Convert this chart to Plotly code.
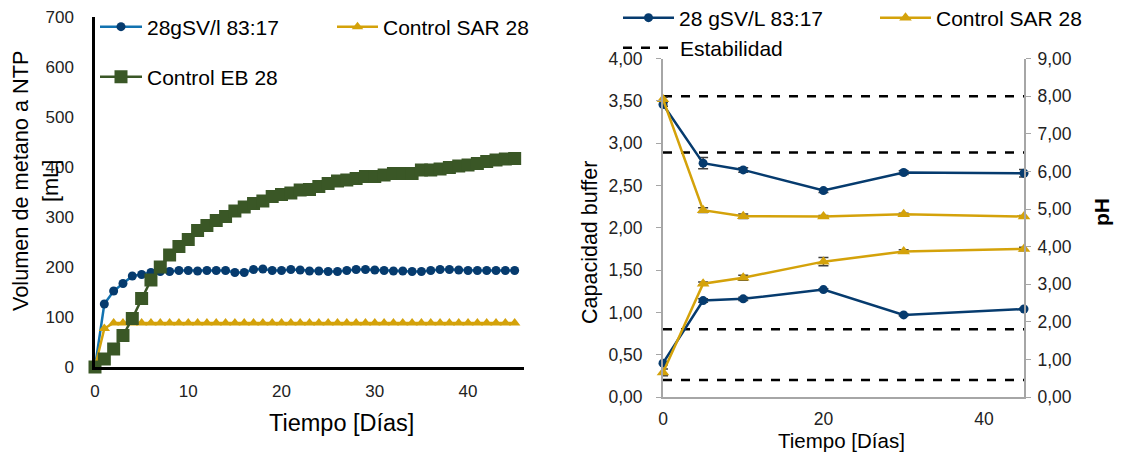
import plotly.graph_objects as go

# ---------------- Left chart data ----------------
days = list(range(0, 46))
blue_vol = [0, 126, 152, 167, 182, 185, 189, 191, 191, 193, 193, 192, 193, 193, 193, 189, 189, 195, 196, 193,
            193, 195, 194, 192, 192, 191, 191, 193, 195, 195, 194, 193, 192, 192, 191, 191, 193, 195, 195, 194,
            193, 193, 193, 193, 193, 193]
sar_vol = [0, 77] + [88] * 44
eb_vol = [0, 16, 36, 63, 97, 137, 174, 200, 224, 241, 255, 273, 283, 293, 301, 312, 320, 327, 332, 341,
          345, 348, 354, 355, 361, 367, 372, 374, 377, 381, 381, 384, 387, 387, 387, 394, 394, 396, 399, 402,
          404, 407, 411, 414, 416, 417]

# ---------------- Right chart data ----------------
t_days = [0, 5, 10, 20, 30, 45]
ph_blue = [7.78, 6.22, 6.04, 5.49, 5.97, 5.95]
ph_blue_err = [0.05, 0.15, 0.06, 0.05, 0.05, 0.10]
ph_sar = [7.92, 4.97, 4.81, 4.80, 4.86, 4.80]
ph_sar_err = [0.05, 0.06, 0.06, 0.03, 0.03, 0.03]
buf_blue = [0.40, 1.14, 1.16, 1.27, 0.97, 1.04]
buf_blue_err = [0.02, 0.02, 0.02, 0.01, 0.01, 0.01]
buf_sar = [0.29, 1.34, 1.41, 1.60, 1.72, 1.75]
buf_sar_err = [0.04, 0.02, 0.03, 0.05, 0.02, 0.02]
ph_limits = [8.0, 6.5]
buf_limits = [0.8, 0.2]
limit_x = [0, 45]

left_ticks = [0, 100, 200, 300, 400, 500, 600, 700]
right_left_ticks = [0, 0.5, 1, 1.5, 2, 2.5, 3, 3.5, 4]
right_left_text = ["0,00", "0,50", "1,00", "1,50", "2,00", "2,50", "3,00", "3,50", "4,00"]
ph_ticks = list(range(0, 10))
ph_text = [f"{v},00" for v in ph_ticks]

NAVY = "#063B6E"
LBLUE = "#1272B0"
GOLD = "#D4A20A"
GREEN = "#3A5726"
W, H = 1122, 456
FONT = "Liberation Sans, Arial, sans-serif"

fig = go.Figure()

# left chart traces
fig.add_trace(go.Scatter(x=days, y=blue_vol, mode="lines+markers", name="28gSV/l 83:17",
                         line=dict(color=LBLUE, width=2.5), marker=dict(color=NAVY, size=9, symbol="circle"),
                         xaxis="x", yaxis="y", legend="legend", cliponaxis=False))
fig.add_trace(go.Scatter(x=days, y=sar_vol, mode="lines+markers", name="Control SAR 28",
                         line=dict(color=GOLD, width=2.5), marker=dict(color=GOLD, size=10, symbol="triangle-up"),
                         xaxis="x", yaxis="y", legend="legend2", cliponaxis=False))
fig.add_trace(go.Scatter(x=days, y=eb_vol, mode="lines+markers", name="Control EB 28",
                         line=dict(color=GREEN, width=2.5), marker=dict(color=GREEN, size=13, symbol="square"),
                         xaxis="x", yaxis="y", legend="legend3", cliponaxis=False))

# right chart traces
ERR = "#404040"
def err(arr):
    return dict(type="data", array=arr, visible=True, color=ERR, thickness=1.5, width=5)

for i, yv in enumerate(ph_limits):
    fig.add_trace(go.Scatter(x=limit_x, y=[yv, yv], mode="lines", name="Estabilidad",
                             line=dict(color="black", width=2.5, dash="dash"),
                             xaxis="x2", yaxis="y3", legend="legend6", showlegend=(i == 0)))
for yv in buf_limits:
    fig.add_trace(go.Scatter(x=limit_x, y=[yv, yv], mode="lines", name="Estabilidad",
                             line=dict(color="black", width=2.5, dash="dash"),
                             xaxis="x2", yaxis="y2", showlegend=False, legend="legend6"))

fig.add_trace(go.Scatter(x=t_days, y=buf_blue, mode="lines+markers", name="28 gSV/L 83:17",
                         line=dict(color=NAVY, width=2.5), marker=dict(color=NAVY, size=9),
                         error_y=err(buf_blue_err), xaxis="x2", yaxis="y2", legend="legend4", cliponaxis=False))
fig.add_trace(go.Scatter(x=t_days, y=buf_sar, mode="lines+markers", name="Control SAR 28",
                         line=dict(color=GOLD, width=2.5), marker=dict(color=GOLD, size=11, symbol="triangle-up"),
                         error_y=err(buf_sar_err), xaxis="x2", yaxis="y2", legend="legend5", cliponaxis=False))
fig.add_trace(go.Scatter(x=t_days, y=ph_blue, mode="lines+markers", name="28 gSV/L 83:17",
                         line=dict(color=NAVY, width=2.5), marker=dict(color=NAVY, size=9),
                         error_y=err(ph_blue_err), xaxis="x2", yaxis="y3", showlegend=False, legend="legend4",
                         cliponaxis=False))
fig.add_trace(go.Scatter(x=t_days, y=ph_sar, mode="lines+markers", name="Control SAR 28",
                         line=dict(color=GOLD, width=2.5), marker=dict(color=GOLD, size=11, symbol="triangle-up"),
                         error_y=err(ph_sar_err), xaxis="x2", yaxis="y3", showlegend=False, legend="legend5",
                         cliponaxis=False))

def px(x):
    return x / W

def py(y):
    return 1 - y / H

left_tick_font = dict(family=FONT, size=17, color="#222")
right_tick_font = dict(family=FONT, size=17.5, color="#222")
leg_font = dict(family=FONT, size=21, color="black")

def leg(x, y, iw):
    return dict(x=px(x), y=py(y), xanchor="left", yanchor="middle", font=leg_font,
                bgcolor="rgba(0,0,0,0)", itemwidth=iw, tracegroupgap=0)

fig.update_layout(
    width=W, height=H,
    margin=dict(l=0, r=0, t=0, b=0, autoexpand=False),
    paper_bgcolor="white", plot_bgcolor="white",
    font=dict(family=FONT, color="black"),
    xaxis=dict(domain=[px(95), px(524)], range=[0, 46], anchor="y",
               tickvals=[0, 10, 20, 30, 40], showgrid=False, zeroline=False,
               showline=True, linecolor="black", linewidth=2.5, ticks="", tickfont=left_tick_font,
               ticklabelstandoff=7, automargin=False),
    yaxis=dict(domain=[py(367), py(17)], range=[0, 700], anchor="x",
               tickvals=left_ticks, showgrid=False, zeroline=False,
               showline=True, linecolor="black", linewidth=2.5, ticks="", tickfont=left_tick_font,
               ticklabelstandoff=15, automargin=False),
    xaxis2=dict(domain=[px(663), px(1024)], range=[0, 45], anchor="y2",
                tickvals=[0, 20, 40], showgrid=False, zeroline=False,
                showline=True, linecolor="#A6A6A6", linewidth=2, ticks="", tickfont=right_tick_font,
                ticklabelstandoff=5, automargin=False),
    yaxis2=dict(domain=[py(397), py(58.6)], range=[0, 4], anchor="x2",
                tickvals=right_left_ticks, ticktext=right_left_text, showgrid=False, zeroline=False,
                showline=True, linecolor="#A6A6A6", linewidth=2, ticks="outside", ticklen=5,
                tickcolor="#A6A6A6", tickfont=right_tick_font, ticklabelstandoff=10, automargin=False),
    yaxis3=dict(range=[0, 9], overlaying="y2", side="right", anchor="x2",
                tickvals=ph_ticks, ticktext=ph_text, showgrid=False, zeroline=False,
                showline=True, linecolor="#A6A6A6", linewidth=2, ticks="outside", ticklen=5,
                tickcolor="#A6A6A6", tickfont=right_tick_font, ticklabelstandoff=3, automargin=False),
    legend=leg(95, 27, 42),
    legend2=leg(332, 27, 41),
    legend3=leg(95, 77, 42),
    legend4=leg(618, 18, 51),
    legend5=leg(875, 18, 51),
    legend6=leg(618, 48, 52),
    showlegend=True,
)

anns = [
    dict(text="Volumen de metano a NTP", x=px(21), y=py(181), textangle=-90, font=dict(size=21.7)),
    dict(text="[mL]", x=px(51), y=py(181), textangle=-90, font=dict(size=21.7)),
    dict(text="Tiempo [Días]", x=px(341), y=py(423), font=dict(size=23.5)),
    dict(text="Capacidad buffer", x=px(590), y=py(243), textangle=-90, font=dict(size=21.5)),
    dict(text="<b>pH</b>", x=px(1101), y=py(212), textangle=-90, font=dict(size=21)),
    dict(text="Tiempo [Días]", x=px(841), y=py(440), font=dict(size=20.5)),
]
for a in anns:
    a.update(xref="paper", yref="paper", showarrow=False, xanchor="center", yanchor="middle")
    a["font"].update(family=FONT, color="black")
fig.update_layout(annotations=anns)

fig.write_html("out.html")
